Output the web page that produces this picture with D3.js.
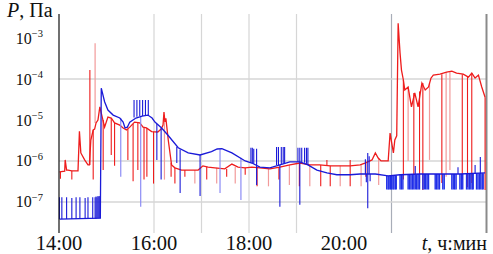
<!DOCTYPE html>
<html lang="ru">
<head>
<meta charset="UTF-8">
<title>P(t)</title>
<style>
  body { margin: 0; background: #fff; }
  svg { display: block; }
  text { font-family: "Liberation Serif", "DejaVu Serif", serif; fill: #111; }
</style>
</head>
<body>
<div id="chart"></div>
<script src="https://cdn.jsdelivr.net/npm/d3@7"></script>
<script>
// y ticks (Pa) and x tick labels (hours)
const yTicks = [1e-3, 1e-4, 1e-5, 1e-6, 1e-7];
const xTicks = [14, 16, 18, 20];
const xTickLabels = ["14:00", "16:00", "18:00", "20:00"];
const gridHours = [16, 17, 18, 19, 21];
const gridP = [1e-4, 1e-6, 1e-7];

// red trace: [hour, P]
const redLine = [
  [14.01,5.4e-7],[14.12,5.6e-7],[14.13,1.06e-6],[14.16,6e-7],[14.19,6e-7],[14.27,5.7e-7],
  [14.40,5.7e-7],[14.43,5.3e-6],[14.46,1.57e-6],[14.54,1.06e-6],[14.61,8e-7],[14.64,8e-7],
  [14.67,3.25e-6],[14.72,5.7e-6],[14.75,6e-6],[14.78,8.5e-6],[14.82,1e-5],[14.86,2.1e-5],
  [14.89,1.48e-5],[14.96,6.7e-6],[15.03,1.18e-5],[15.10,1.12e-5],[15.17,8.5e-6],[15.28,7.5e-6],
  [15.35,6.4e-6],[15.42,5.7e-6],[15.49,6.7e-6],[15.59,8.9e-6],[15.70,8.5e-6],[15.77,6.7e-6],
  [15.84,6.4e-6],[15.95,5.2e-6],[16.08,5.1e-6],[16.15,6e-6],[16.19,7.5e-6],[16.21,1.57e-5],
  [16.23,9e-6],[16.25,1.1e-5],[16.30,3.25e-6],[16.37,8e-7],[16.44,6.8e-7],[16.58,6e-7],
  [16.72,6e-7],[16.93,6e-7],[17.03,7.6e-7],[17.14,7.1e-7],[17.28,6.8e-7],[17.49,6.4e-7],
  [17.64,8.4e-7],[17.77,7.1e-7],[17.92,6.8e-7],[18.06,7.1e-7],[18.23,6.8e-7],[18.44,6.4e-7],
  [18.65,7.1e-7],[18.86,8e-7],[19.07,8.9e-7],[19.28,8e-7],[19.49,8e-7],[19.71,7.6e-7],
  [19.92,7.6e-7],[20.13,7.6e-7],[20.34,8e-7],[20.44,8.9e-7],[20.59,1.06e-6],[20.66,1.57e-6],
  [20.72,1.18e-6],[20.78,1e-6],[20.93,1e-6],[20.97,4.8e-6],[21.04,1.57e-6],[21.07,3.25e-6],
  [21.11,4.1e-6],[21.14,2.3e-3],[21.18,4.3e-4],[21.21,1.66e-4],[21.25,9.5e-5],[21.28,5.4e-5],
  [21.35,6.4e-5],[21.42,2.1e-5],[21.49,4.6e-5],[21.56,2.1e-5],[21.64,8e-5],[21.71,5.4e-5],
  [21.78,6.4e-5],[21.83,1.05e-4],[21.88,1.25e-4],[22.02,1.32e-4],[22.16,1.48e-4],[22.27,1.57e-4],
  [22.37,1.4e-4],[22.51,1.32e-4],[22.62,1.12e-4],[22.69,1.4e-4],[22.76,1.06e-4],[22.83,1.25e-4],
  [22.90,6.4e-5],[22.97,3.6e-5]
];

// red spikes: [hour, from P, to P]
const redSpikes = [
  [14.03,5.4e-7,3.7e-7],[14.27,5.7e-7,3.5e-7],[14.65,8e-7,1.66e-4],[14.72,5.7e-6,3.5e-7],
  [14.93,1e-5,6e-7],[15.10,1.12e-5,1.4e-6],[15.17,8.5e-6,7.6e-7],[15.45,6e-6,1.06e-6],
  [15.56,8e-6,3.2e-7],[15.66,8.5e-6,6e-7],[15.79,6.7e-6,3.5e-7],[15.85,6.4e-6,4.1e-7],
  [15.99,5.2e-6,2.8e-7],[16.36,9e-7,4.1e-7],[16.44,6.8e-7,2.8e-7],[16.65,6e-7,4.1e-7],
  [17.11,7.1e-7,3.5e-7],[17.53,6.4e-7,4.1e-7],[17.92,6.8e-7,4.6e-7],[18.17,6.8e-7,2.4e-7],
  [18.63,7.1e-7,3.5e-7],[19.06,8.9e-7,2.4e-7],[19.51,8e-7,2.4e-7],[19.64,7.6e-7,1.06e-6],
  [19.71,7.6e-7,2.4e-7],[20.13,7.6e-7,2.4e-7],[20.13,7.6e-7,1.06e-6],[20.46,8.9e-7,4.1e-7],
  [21.25,9.5e-5,3.5e-7],[21.47,4.6e-5,4.6e-7],[21.59,5e-5,2.9e-7],[21.66,8e-5,1.96e-7],
  [22.06,1.32e-4,2.9e-7],[22.49,1.32e-4,3.5e-7],[22.60,1.12e-4,2.3e-7],[22.69,1.4e-4,2.9e-7],
  [22.97,3.6e-5,1.96e-7]
];
const redSpikesPale = [
  [14.76,8.5e-6,7.5e-4],[16.22,1e-5,3.5e-7],[16.86,6e-7,2.8e-7],[17.32,6.8e-7,2.8e-7],
  [17.71,7.1e-7,2.8e-7],[18.41,6.4e-7,2.4e-7],[18.85,8e-7,2.6e-7],[19.28,8e-7,2.4e-7],
  [19.92,7.6e-7,2.4e-7],[20.36,8e-7,2.4e-7],[20.73,1.18e-6,2.6e-7],[21.35,6.4e-5,1e-6],
  [21.80,8e-5,1.06e-6],[22.15,1.48e-4,4.1e-7],[22.23,1.57e-4,6e-7]
];

// blue trace: [hour, P]
const blueLine = [
  [14.01,3.8e-8],[14.86,4e-8],[14.87,4e-8],[14.89,6e-5],[14.96,2.8e-5],[15.03,1.75e-5],
  [15.14,1.32e-5],[15.28,1.12e-5],[15.35,8.9e-6],[15.39,6.4e-6],[15.44,6.7e-6],[15.49,8.9e-6],
  [15.62,1.12e-5],[15.75,1.25e-5],[15.87,1.32e-5],[15.96,1.12e-5],[16.02,8.9e-6],[16.16,6.4e-6],
  [16.29,4.3e-6],[16.51,2.1e-6],[16.72,1.57e-6],[16.97,1.4e-6],[17.21,1.7e-6],[17.33,1.96e-6],
  [17.43,2e-6],[17.64,1.57e-6],[17.92,1e-6],[18.06,8.9e-7],[18.23,7.1e-7],[18.44,6.8e-7],
  [18.65,8e-7],[18.86,9.5e-7],[19.07,9.5e-7],[19.24,8e-7],[19.43,6e-7],[19.64,5.1e-7],
  [19.85,4.6e-7],[20.13,4.6e-7],[20.34,4.8e-7],[20.66,4.8e-7],[20.93,4.3e-7],[21.18,4.6e-7],
  [21.60,4.8e-7],[22.02,4.8e-7],[22.44,4.8e-7],[22.97,5.1e-7]
];

// blue spikes: [hour, from P, to P]
const blueSpikes = [
  [14.01,3.8e-8,1.3e-7],[14.06,3.8e-8,1.3e-7],[14.16,3.8e-8,1.3e-7],[14.27,3.8e-8,1.25e-7],
  [14.36,3.8e-8,1.3e-7],[14.44,3.8e-8,1.3e-7],[14.55,3.8e-8,1.25e-7],[14.61,3.8e-8,1.3e-7],
  [14.71,3.9e-8,1.3e-7],[14.76,3.9e-8,1.3e-7],[14.78,3.9e-8,1.35e-7],[14.80,4e-8,1.3e-7],
  [14.82,4e-8,1.4e-7],[14.84,4e-8,1.35e-7],[14.86,4e-8,1.4e-7],
  [15.58,1.15e-5,3.1e-5],[15.64,1.2e-5,3.1e-5],[15.70,1.25e-5,3.1e-5],[15.76,1.25e-5,3.1e-5],
  [15.82,1.3e-5,3.1e-5],[15.88,1.3e-5,3.1e-5],
  [16.06,8e-6,1.06e-6],[16.15,6.5e-6,3.5e-7],[16.48,2.2e-6,8.9e-7],[16.55,1.9e-6,1.66e-7],
  [16.97,1.4e-6,1.4e-7],[18.04,9e-7,2.1e-6],[18.07,8.9e-7,2.1e-6],[18.10,8.5e-7,2e-6],
  [18.16,7.5e-7,2e-6],[18.16,7.5e-7,2.6e-7],
  [18.58,8e-7,2.2e-6],[18.62,8e-7,2.2e-6],[18.65,8e-7,7.6e-8],[18.68,8e-7,2.2e-6],
  [18.72,8.5e-7,2.2e-6],[18.75,8.5e-7,2.2e-6],
  [19.03,9.5e-7,2.1e-6],[19.07,9.5e-7,8.5e-8],[19.07,9.5e-7,2.1e-6],[19.11,9.3e-7,2.1e-6],
  [19.17,9e-7,2.1e-6],[19.21,8.5e-7,2.1e-6],[19.24,8e-7,2.1e-6],
  [20.45,4.8e-7,1.1e-6],[20.47,4.8e-7,3e-7],[20.50,4.8e-7,7e-8],[20.50,4.8e-7,1.57e-6],
  [20.53,4.8e-7,1.3e-6],[20.55,4.8e-7,3.2e-7],
  [21.50,4.8e-7,7.5e-7],[22.40,4.8e-7,7e-7],[22.76,4.8e-7,8e-7],[22.87,4.8e-7,1.25e-6]
];
const blueSpikesPale = [
  [15.30,1.12e-5,4.1e-7],[15.72,1.25e-5,7.6e-8],[17.39,1.96e-6,1.66e-7],[17.83,1.2e-6,1.12e-7]
];
// dense blue comb after 21:00: [hour, from P, to P]
const blueComb = [
  [20.90,4.4e-7,2e-7],[20.93,4.3e-7,2e-7],[20.95,4.4e-7,2e-7],[20.98,4.4e-7,2e-7],[21.00,4.4e-7,2e-7],
  [21.03,4.5e-7,2e-7],[21.05,4.5e-7,2e-7],[21.08,4.5e-7,2e-7],[21.10,4.5e-7,2e-7],
  [21.18,4.6e-7,2e-7],[21.21,4.6e-7,2e-7],[21.24,4.6e-7,2e-7],
  [21.35,4.6e-7,2e-7],[21.38,4.6e-7,2e-7],[21.41,4.7e-7,2e-7],[21.44,4.7e-7,2e-7],[21.47,4.7e-7,2e-7],
  [21.50,4.7e-7,2e-7],[21.53,4.7e-7,2e-7],[21.56,4.8e-7,2e-7],[21.59,4.8e-7,2e-7],
  [21.66,4.8e-7,2e-7],[21.69,4.8e-7,2e-7],[21.72,4.8e-7,2e-7],[21.75,4.8e-7,2e-7],[21.78,4.8e-7,2e-7],
  [21.92,4.8e-7,2e-7],[21.95,4.8e-7,2e-7],[21.98,4.8e-7,2e-7],[22.01,4.8e-7,2e-7],
  [22.08,4.8e-7,2e-7],[22.11,4.8e-7,2e-7],
  [22.27,4.8e-7,2e-7],[22.30,4.8e-7,2e-7],[22.33,4.8e-7,2e-7],[22.36,4.8e-7,2e-7],
  [22.44,4.8e-7,2e-7],[22.47,4.8e-7,2e-7],[22.50,4.8e-7,2e-7],
  [22.58,4.9e-7,2e-7],[22.61,4.9e-7,2e-7],[22.64,4.9e-7,2e-7],[22.67,4.9e-7,2e-7],[22.70,4.9e-7,2e-7],[22.72,4.9e-7,2e-7],
  [22.79,5e-7,2e-7],[22.82,5e-7,2e-7],[22.85,5e-7,2e-7],[22.88,5e-7,2e-7],[22.91,5e-7,2e-7],[22.93,5e-7,2e-7]
];

const width = 493, height = 254;
const svg = d3.select("#chart").append("svg").attr("width", width).attr("height", height);

const x = d3.scaleLinear().domain([14, 23]).range([59, 486.5]);
const y = d3.scaleLog().domain([Math.pow(10, -7.76), Math.pow(10, -2.41)]).range([233, 14]);
const plotTop = y.range()[1], plotBottom = y.range()[0];

// grid
svg.selectAll(".gx").data(gridHours).enter().append("line")
  .attr("x1", d => x(d)).attr("x2", d => x(d))
  .attr("y1", plotTop).attr("y2", plotBottom)
  .attr("stroke", d => d === 21 ? "#a8adb8" : "#d6d6d6").attr("stroke-width", 1.2);
svg.selectAll(".gy").data(gridP).enter().append("line")
  .attr("x1", x(14)).attr("x2", x(23))
  .attr("y1", d => y(d)).attr("y2", d => y(d))
  .attr("stroke", "#d6d6d6").attr("stroke-width", 1.5);

// right border
svg.append("line").attr("x1", x(23)).attr("x2", x(23)).attr("y1", plotTop).attr("y2", plotBottom)
  .attr("stroke", "#8a8a8a").attr("stroke-width", 2);

const line = d3.line().x(d => x(d[0])).y(d => y(d[1]));

function spikes(data, color, w) {
  svg.append("g").selectAll("line").data(data).enter().append("line")
    .attr("x1", d => x(d[0])).attr("x2", d => x(d[0]))
    .attr("y1", d => y(d[1])).attr("y2", d => y(d[2]))
    .attr("stroke", color).attr("stroke-width", w);
}

// red series
spikes(redSpikesPale, "#f29a9a", 1.2);
spikes(redSpikes, "#ee1c1c", 1.1);
svg.append("path").datum(redLine).attr("d", line)
  .attr("fill", "none").attr("stroke", "#ee1c1c").attr("stroke-width", 1.3);

// blue series
spikes(blueSpikesPale, "#8c8cf5", 1.2);
spikes(blueComb, "#1f2ee8", 1.4);
spikes(blueSpikes, "#1a1ad8", 1.1);
svg.append("path").datum(blueLine).attr("d", line)
  .attr("fill", "none").attr("stroke", "#1a1ad8").attr("stroke-width", 1.3);

// y axis line
svg.append("line").attr("x1", x(14)).attr("x2", x(14)).attr("y1", plotTop).attr("y2", plotBottom)
  .attr("stroke", "#111").attr("stroke-width", 1.2);

// y labels
const yl = svg.selectAll(".yl").data(yTicks).enter().append("text")
  .attr("x", 43).attr("y", d => y(d) + 5.5)
  .attr("text-anchor", "end").attr("font-size", 16);
yl.append("tspan").text("10");
yl.append("tspan").attr("font-size", 10.5).attr("dy", -6.5)
  .text(d => "\u2212" + Math.round(-Math.log10(d)));

// x labels
svg.selectAll(".xl").data(xTicks).enter().append("text")
  .attr("x", d => x(d)).attr("y", 250)
  .attr("text-anchor", "middle").attr("font-size", 20.5)
  .text((d, i) => xTickLabels[i]);

const tl = svg.append("text").attr("x", 487).attr("y", 250)
  .attr("text-anchor", "end").attr("font-size", 20);
tl.append("tspan").attr("font-style", "italic").text("t");
tl.append("tspan").text(", ч:мин");

const pl = svg.append("text").attr("x", 7).attr("y", 17).attr("font-size", 20);
pl.append("tspan").attr("font-style", "italic").text("P");
pl.append("tspan").text(", Па");
</script>
</body>
</html>
